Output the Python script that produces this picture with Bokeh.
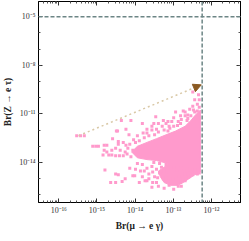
from bokeh.plotting import figure
from bokeh.models import (Range1d, FixedTicker, CustomJSTickFormatter, LogAxis,
                          Span, Arrow, NormalHead, ColumnDataSource)
from bokeh.embed import file_html
from bokeh.resources import INLINE

# ---- data (log10 values) ----
x_ticks = [1e-16, 1e-15, 1e-14, 1e-13, 1e-12]
y_ticks = [1e-14, 1e-11, 1e-8, 1e-5]
meg_bound = 5.7e-13      # Br(mu -> e gamma) limit
z_bound = 1e-5           # Br(Z -> e tau) limit

# scattered scan points: log10 Br(mu->e gamma), log10 Br(Z->e tau)
pts_log_mueg = [
    -15.53, -15.43, -15.33, -15.11, -15.03, -14.96, -14.81, -14.74, -14.59, -14.49,
    -14.44, -14.44, -14.51, -14.39, -14.81, -14.84, -14.69, -14.61, -14.51, -14.41,
    -14.31, -14.74, -14.61, -14.79, -14.51, -14.64, -14.51, -14.34, -14.14, -14.44,
    -14.26, -14.06, -13.99, -14.36, -14.24, -14.46, -14.16, -13.94, -14.11, -14.31,
    -14.24, -14.19, -14.26, -14.14, -14.06, -14.21, -14.11,
    -13.46, -12.94, -12.74, -12.37, -12.49, -13.81, -13.19, -12.32, -12.49, -12.37,
    -12.69, -13.51, -13.26, -13.11, -13.69, -13.56, -13.39, -13.24, -12.99, -12.81,
    -12.64, -12.54, -12.44, -12.37, -12.32, -12.44, -12.34, -12.62, -12.87, -13.76,
    -13.64, -13.49, -13.14, -13.89, -13.99, -13.44, -13.04,
    -13.14, -12.99, -12.81, -12.69, -12.57, -12.79, -13.09, -13.29, -13.39, -13.56,
    -13.69, -13.79, -14.04, -12.89, -12.62, -12.47,
    -14.01, -13.76, -13.56, -13.44, -13.26, -13.11, -12.94, -12.81, -12.69, -13.56,
    -13.44, -13.36, -13.31, -13.24, -13.19, -13.14, -13.06, -13.01, -12.99, -12.89,
    -12.84, -12.79, -12.74, -12.64, -12.59, -12.54, -12.49, -12.44, -12.37, -12.32,
    -13.19, -13.06, -13.49, -13.39, -12.99, -13.24, -12.87, -13.64, -13.69, -13.81,
    -13.94, -13.51, -13.36, -13.19, -12.79, -12.69, -12.57, -12.44,
    -13.64, -13.54, -13.69, -13.54, -13.41, -13.74, -13.81, -13.86, -13.89,
]
pts_log_zet = [
    -12.35, -12.35, -12.35, -13.00, -13.00, -13.00, -12.94, -12.94, -12.53, -12.06,
    -12.71, -12.88, -13.12, -13.24, -13.24, -13.53, -13.53, -13.53, -13.59, -13.59,
    -13.59, -13.35, -13.24, -14.47, -14.71, -15.24, -15.24, -15.18, -14.35, -14.76,
    -15.00, -14.82, -14.41, -11.41, -11.94, -12.06, -12.29, -12.35, -11.41, -12.76,
    -12.94, -13.12, -13.35, -12.88, -13.24, -13.47, -13.65,
    -11.18, -10.88, -10.82, -11.47, -10.53, -11.59, -11.59, -10.59, -9.65, -10.82,
    -11.12, -11.59, -11.41, -11.76, -12.18, -12.00, -12.12, -12.00, -11.76, -11.59,
    -11.41, -11.12, -10.88, -10.41, -10.12, -10.12, -9.82, -11.29, -11.47, -12.47,
    -12.35, -12.29, -12.06, -12.65, -12.76, -11.94, -11.47,
    -11.47, -11.24, -11.12, -10.88, -10.71, -11.35, -11.88, -11.76, -11.59, -11.76,
    -11.94, -12.18, -12.59, -11.71, -11.06, -10.76,
    -14.82, -14.53, -15.53, -15.24, -15.00, -15.41, -14.82, -15.24, -14.71, -14.24,
    -14.41, -14.65, -14.29, -14.53, -14.76, -14.29, -14.53, -15.00, -14.29, -14.53,
    -14.88, -14.35, -15.00, -14.53, -14.88, -14.65, -14.76, -14.59, -14.71, -14.65,
    -15.12, -15.24, -14.88, -15.47, -15.65, -15.59, -15.47, -14.71, -14.35, -14.12,
    -14.06, -14.00, -14.06, -14.12, -15.47, -15.12, -14.41, -14.41,
    -15.00, -15.24, -15.12, -14.59, -14.94, -15.12, -14.88, -14.53, -15.24,
]

# outline of the densely filled part of the scan
core_log_mueg = [-14.09, -13.94, -13.69, -13.44, -13.19, -12.94, -12.69, -12.54, -12.44,
                 -12.29, -12.29, -12.44, -12.59, -12.74, -12.89, -13.06, -13.24, -13.34,
                 -13.39, -13.24, -13.14, -13.44, -13.69, -13.94]
core_log_zet = [-13.35, -13.00, -12.76, -12.53, -12.29, -12.06, -11.76, -11.41, -11.12,
                -10.76, -14.59, -14.76, -15.00, -15.24, -15.41, -15.41, -15.24, -14.88,
                -14.53, -14.29, -14.06, -13.88, -13.82, -13.71]

arrow_start = [3.3e-16, 4.5e-13]
arrow_end = [5.4e-13, 6.2e-10]

pink = "#ff9acc"
serif = "Liberation Serif"

pts = ColumnDataSource(dict(x=[10 ** v for v in pts_log_mueg],
                            y=[10 ** v for v in pts_log_zet]))
core = ColumnDataSource(dict(x=[10 ** v for v in core_log_mueg],
                             y=[10 ** v for v in core_log_zet]))

p = figure(width=241, height=233, x_axis_type="log", y_axis_type="log",
           x_range=Range1d(10 ** -16.53, 10 ** -11.24),
           y_range=Range1d(10 ** -16.47, 10 ** -4.06),
           output_backend="svg", toolbar_location=None,
           min_border_left=2, min_border_right=1, min_border_top=1, min_border_bottom=1)
p.grid.visible = False
p.outline_line_color = "black"
p.outline_line_width = 1
p.background_fill_color = "white"
p.border_fill_color = "white"

x_minor = [m * 10.0 ** e for e in range(-17, -11) for m in range(2, 10)]
y_minor = [10.0 ** e for e in range(-17, -3)]

fmt_code = """
const sup = {'-':'\u207b','0':'\u2070','1':'\u00b9','2':'\u00b2','3':'\u00b3','4':'\u2074',
             '5':'\u2075','6':'\u2076','7':'\u2077','8':'\u2078','9':'\u2079'};
const e = Math.round(Math.log10(tick)).toString();
return '10' + e.split('').map(c => sup[c]).join('');
"""


def style_axis(ax, ticks, minor, labels=True):
    ax.ticker = FixedTicker(ticks=ticks, minor_ticks=minor)
    ax.major_tick_in = 4
    ax.major_tick_out = 0
    ax.minor_tick_in = 2
    ax.minor_tick_out = 0
    ax.axis_line_color = "black"
    ax.major_tick_line_color = "#333333"
    ax.minor_tick_line_color = "#555555"
    if labels:
        ax.formatter = CustomJSTickFormatter(code=fmt_code)
        ax.major_label_text_font = serif
        ax.major_label_text_font_size = "8px"
        ax.major_label_text_color = "#333333"
        ax.major_label_standoff = 3
        ax.axis_label_text_font = serif
        ax.axis_label_text_font_size = "9.5px"
        ax.axis_label_text_font_style = "bold"
        ax.axis_label_text_color = "#222222"
        ax.axis_label_standoff = 3
    else:
        ax.formatter = CustomJSTickFormatter(code="return '';")
        ax.major_label_text_font_size = "0px"
        ax.major_label_standoff = 0


style_axis(p.xaxis[0], x_ticks, x_minor)
style_axis(p.yaxis[0], y_ticks, y_minor)
p.xaxis[0].axis_label = "Br(\u03bc \u2192 e \u03b3)"
p.yaxis[0].axis_label = "Br(Z \u2192 e \u03c4)"

top = LogAxis()
style_axis(top, x_ticks, x_minor, labels=False)
p.add_layout(top, "above")
right = LogAxis()
style_axis(right, y_ticks, y_minor, labels=False)
p.add_layout(right, "right")

p.patch("x", "y", source=core, fill_color=pink, line_color=pink, line_width=1)
p.scatter("x", "y", source=pts, marker="square", size=3, fill_color=pink, line_color=None)

dash_col = "#6c8585"
p.add_layout(Span(location=meg_bound, dimension="height", line_color=dash_col,
                  line_dash="4 2", line_width=1.5))
p.add_layout(Span(location=z_bound, dimension="width", line_color=dash_col,
                  line_dash="4 2", line_width=1.5))

p.add_layout(Arrow(end=NormalHead(size=8, fill_color="#8b5a22", line_color="#8b5a22"),
                   x_start=arrow_start[0], y_start=arrow_start[1],
                   x_end=arrow_end[0], y_end=arrow_end[1],
                   line_color="#d9c8a6", line_dash="2 3", line_width=1.5))

open("out.html", "w").write(file_html(p, INLINE))
